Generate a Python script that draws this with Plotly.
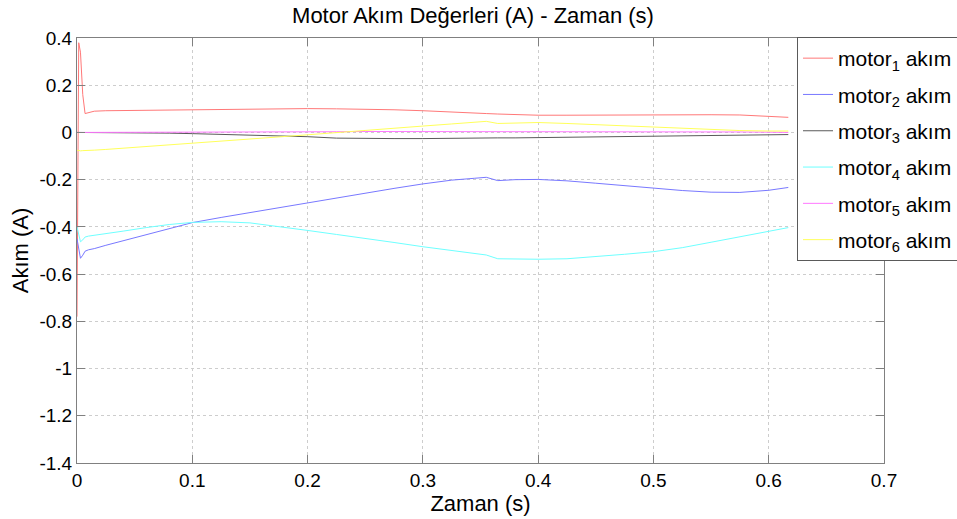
import plotly.graph_objects as go

# Sample times (s)
time_s = [0, 0.0015, 0.003, 0.005, 0.007, 0.01, 0.015, 0.025, 0.04, 0.06, 0.08,
          0.1, 0.125, 0.15, 0.175, 0.2, 0.225, 0.25, 0.275, 0.3, 0.325, 0.345,
          0.355, 0.365, 0.38, 0.4, 0.425, 0.45, 0.475, 0.5, 0.525, 0.55, 0.575,
          0.6, 0.617]

# Motor currents (A)
motor1 = [-0.78, 0.38, 0.34, 0.16, 0.08, 0.085, 0.09, 0.092, 0.093, 0.092, 0.093,
          0.095, 0.097, 0.1, 0.101, 0.101, 0.1, 0.099, 0.096, 0.092, 0.088, 0.082,
          0.08, 0.078, 0.075, 0.073, 0.073, 0.074, 0.075, 0.076, 0.076, 0.075, 0.074,
          0.068, 0.064]
motor2 = [-0.45, -0.5, -0.533, -0.52, -0.503, -0.497, -0.492, -0.478, -0.459, -0.433, -0.408,
          -0.382, -0.36, -0.339, -0.318, -0.298, -0.277, -0.257, -0.237, -0.218, -0.202, -0.194,
          -0.19, -0.204, -0.2, -0.199, -0.205, -0.215, -0.225, -0.237, -0.246, -0.253, -0.254,
          -0.245, -0.233]
motor3 = [0.0, 0.0, 0.0, 0.0, 0.0, 0.0, 0.0, 0.0, 0.0, -0.001, -0.003,
          -0.005, -0.008, -0.011, -0.014, -0.018, -0.024, -0.026, -0.026, -0.026, -0.024, -0.023,
          -0.023, -0.023, -0.023, -0.022, -0.021, -0.02, -0.018, -0.016, -0.015, -0.013, -0.012,
          -0.01, -0.009]
motor4 = [-0.4, -0.44, -0.463, -0.455, -0.443, -0.439, -0.435, -0.428, -0.418, -0.403, -0.39,
          -0.381, -0.378, -0.383, -0.398, -0.415, -0.432, -0.448, -0.466, -0.484, -0.5, -0.512,
          -0.519, -0.535, -0.536, -0.537, -0.535, -0.527, -0.516, -0.505, -0.488, -0.465, -0.441,
          -0.418, -0.403]
motor5 = [0.0, 0.0, 0.0, 0.0, 0.0, 0.0, 0.0, 0.0, 0.0, 0.001, 0.001,
          0.001, 0.002, 0.002, 0.002, 0.003, 0.003, 0.004, 0.004, 0.005, 0.005, 0.005,
          0.005, 0.005, 0.005, 0.005, 0.005, 0.005, 0.004, 0.003, 0.003, 0.003, 0.002,
          0.001, 0.0]
motor6 = [-0.075, -0.078, -0.078, -0.077, -0.077, -0.076, -0.075, -0.072, -0.067, -0.06, -0.053,
          -0.046, -0.038, -0.028, -0.019, -0.01, 0.0, 0.01, 0.019, 0.027, 0.036, 0.045,
          0.047, 0.038, 0.04, 0.042, 0.038, 0.033, 0.028, 0.023, 0.018, 0.012, 0.008,
          0.006, 0.006]

series = [motor1, motor2, motor3, motor4, motor5, motor6]
names = ["motor<sub>1</sub> akım", "motor<sub>2</sub> akım", "motor<sub>3</sub> akım",
         "motor<sub>4</sub> akım", "motor<sub>5</sub> akım", "motor<sub>6</sub> akım"]
colors = ["rgb(255,120,120)", "rgb(120,120,255)", "rgb(90,90,90)",
          "rgb(110,255,255)", "rgb(255,120,255)", "rgb(255,255,90)"]

x_ticks = [0, 0.1, 0.2, 0.3, 0.4, 0.5, 0.6, 0.7]
x_labels = ["0", "0.1", "0.2", "0.3", "0.4", "0.5", "0.6", "0.7"]
y_ticks = [-1.4, -1.2, -1.0, -0.8, -0.6, -0.4, -0.2, 0, 0.2, 0.4]
y_labels = ["-1.4", "-1.2", "-1", "-0.8", "-0.6", "-0.4", "-0.2", "0", "0.2", "0.4"]

FONT = "Liberation Sans, Arial, sans-serif"

fig = go.Figure()
for i, (vals, name, col) in enumerate(zip(series, names, colors)):
    fig.add_trace(go.Scatter(x=time_s, y=vals, mode="lines", name=name,
                             legendgroup=f"m{i + 1}",
                             line=dict(color=col, width=1)))

axis_common = dict(
    showline=True, linecolor="rgb(128,128,128)", linewidth=1, mirror="ticks",
    ticks="inside", ticklen=8, tickcolor="rgb(128,128,128)",
    showgrid=True, gridcolor="rgb(205,205,205)", griddash="dot", gridwidth=1,
    zeroline=False, tickfont=dict(family=FONT, size=19, color="black"),
)

fig.update_layout(
    width=957, height=519,
    margin=dict(l=77, r=73, t=37.5, b=55.5, autoexpand=False),
    paper_bgcolor="white", plot_bgcolor="white",
    font=dict(family=FONT, color="black"),
    title=dict(text="Motor Akım Değerleri (A) - Zaman (s)",
               font=dict(family=FONT, size=22, color="black"),
               x=0.4907, xref="paper", xanchor="center",
               y=1 - 15 / 519, yref="container", yanchor="middle"),
    xaxis=dict(range=[0, 0.7], tickvals=x_ticks, ticktext=x_labels,
               title=dict(text="Zaman (s)", font=dict(family=FONT, size=22), standoff=0),
               automargin=False, **axis_common),
    yaxis=dict(range=[-1.4, 0.4], tickvals=y_ticks, ticktext=y_labels,
               title=dict(text="Akım (A)", font=dict(family=FONT, size=22), standoff=4),
               automargin=False, **axis_common),
    legend=dict(x=797 / 957, y=1 - 37 / 519, xref="container", yref="container",
                xanchor="left", yanchor="top",
                bgcolor="white", bordercolor="rgb(90,90,90)", borderwidth=1,
                font=dict(family=FONT, size=21, color="black"),
                itemwidth=30, tracegroupgap=6),
    showlegend=True,
)

fig.write_html("out.html")
